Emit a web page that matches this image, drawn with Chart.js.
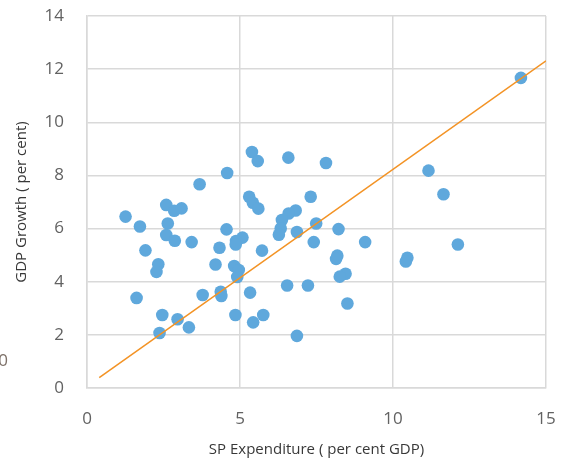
<!DOCTYPE html>
<html>
<head>
<meta charset="utf-8">
<script src="https://cdn.jsdelivr.net/npm/chart.js@4"></script>
<style>
html,body{margin:0;padding:0;background:#fff;}
#wrap{width:568px;height:462px;position:relative;}
</style>
</head>
<body>
<div id="wrap"><canvas id="c" width="568" height="462"></canvas></div>
<script>
const spExpenditure = [1.26,1.73,1.91,1.62,2.59,2.85,3.09,2.64,2.59,2.87,3.42,2.33,2.27,3.68,4.58,4.56,5.08,4.87,4.86,4.33,4.20,4.81,4.96,4.91,3.78,4.37,4.39,5.33,2.46,2.96,3.33,2.37,4.85,5.43,5.76,5.39,5.58,6.58,7.81,5.30,5.42,5.60,7.31,6.82,6.59,6.37,6.33,6.27,7.49,6.86,8.22,7.41,9.09,5.72,8.18,8.14,8.45,8.26,6.54,7.22,8.51,6.86,11.16,11.65,12.12,10.47,10.42,14.18];
const gdpGrowth = [6.45,6.08,5.18,3.39,6.89,6.67,6.76,6.19,5.76,5.54,5.49,4.66,4.37,7.67,8.09,5.97,5.66,5.53,5.40,5.28,4.65,4.59,4.44,4.18,3.50,3.62,3.46,3.59,2.75,2.59,2.28,2.07,2.75,2.47,2.75,8.88,8.54,8.67,8.47,7.20,6.97,6.75,7.20,6.68,6.57,6.32,6.00,5.77,6.19,5.87,5.98,5.49,5.49,5.17,4.98,4.86,4.30,4.19,3.86,3.86,3.18,1.96,8.18,7.29,5.40,4.90,4.76,11.67];
const trendX = [0.4, 15];
const trendY = [0.39, 12.31];
const xTicks = [0, 5, 10, 15];
const yTicks = [0, 2, 4, 6, 8, 10, 12, 14];

const points = spExpenditure.map((x, i) => ({x: x, y: gdpGrowth[i]}));
const trend = trendX.map((x, i) => ({x: x, y: trendY[i]}));

const strayText = {
  id: 'strayText',
  afterDraw(chart) {
    const ctx = chart.ctx;
    ctx.save();
    ctx.font = '17px "Open Sans"';
    ctx.fillStyle = '#7d7068';
    ctx.textAlign = 'right';
    ctx.textBaseline = 'middle';
    ctx.fillText('0', 8, 361);
    ctx.restore();
  }
};

const gridColor = '#d9d9d9';
new Chart(document.getElementById('c'), {
  type: 'scatter',
  data: {
    datasets: [
      {
        type: 'line',
        data: trend,
        borderColor: '#f39325',
        borderWidth: 1.5,
        pointRadius: 0,
        fill: false,
        tension: 0
      },
      {
        data: points,
        backgroundColor: '#5fa8dc',
        borderColor: '#5fa8dc',
        pointRadius: 6.3,
        pointBorderWidth: 0
      }
    ]
  },
  options: {
    responsive: false,
    animation: false,
    events: [],
    layout: {padding: {left: 0, top: 16, right: 22, bottom: 0}},
    plugins: {legend: {display: false}, tooltip: {enabled: false}},
    scales: {
      x: {
        type: 'linear',
        min: 0, max: 15,
        afterBuildTicks(s) { s.ticks = xTicks.map(v => ({value: v})); },
        afterFit(s) { s.height = 74; s.paddingLeft = 0; s.paddingRight = 0; },
        grid: {color: gridColor, lineWidth: 1.5, drawTicks: false},
        border: {color: gridColor, width: 1.5},
        ticks: {padding: 21, color: '#626262', font: {family: '"Open Sans"', size: 17}},
        title: {display: true, text: 'SP Expenditure ( per cent GDP)', color: '#383838', font: {family: '"Open Sans"', size: 15}, padding: {bottom: 3, top: 0}}
      },
      y: {
        type: 'linear',
        min: 0, max: 14,
        afterBuildTicks(s) { s.ticks = yTicks.map(v => ({value: v})); },
        afterFit(s) { s.width = 87; s.paddingTop = 0; s.paddingBottom = 0; },
        grid: {color: gridColor, lineWidth: 1.5, drawTicks: false},
        border: {color: gridColor, width: 1.5},
        ticks: {padding: 23, color: '#626262', font: {family: '"Open Sans"', size: 17}},
        title: {display: true, text: 'GDP Growth ( per cent)', color: '#383838', font: {family: '"Open Sans"', size: 15}, padding: {top: 13, bottom: 0}}
      }
    }
  },
  plugins: [strayText]
});
</script>
</body>
</html>
